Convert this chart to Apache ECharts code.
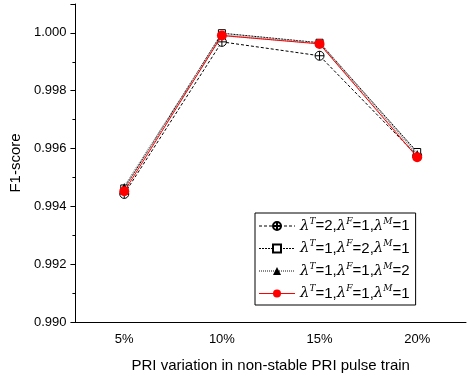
<!DOCTYPE html>
<html>
<head>
<meta charset="utf-8">
<script src="https://cdn.jsdelivr.net/npm/echarts@6/dist/echarts.min.js"></script>
<style>
  html, body { margin: 0; padding: 0; background: #fff; }
  #chart { width: 468px; height: 378px; }
</style>
</head>
<body>
<div id="chart"></div>
<script>
// PRI variation levels on the x axis
const categories = ['5%', '10%', '15%', '20%'];

// Weight settings (lambda^T, lambda^F, lambda^M) for each curve
const weightsA = [2, 1, 1];
const weightsB = [1, 2, 1];
const weightsC = [1, 1, 2];
const weightsD = [1, 1, 1];

// F1-score per PRI variation level
const f1A = [0.99443, 0.99969, 0.99921, 0.99575];
const f1B = [0.99462, 0.99999, 0.99966, 0.99588];
const f1C = [0.99467, 0.99992, 0.99965, 0.99581];
const f1D = [0.99452, 0.99991, 0.99962, 0.99570];

// Y axis ticks
const yMin = 0.990, yMax = 1.001, yStep = 0.002;

const names = [weightsA, weightsB, weightsC, weightsD].map(w => 'w' + w.join('_'));

function legendLabel(name) {
  const w = name.slice(1).split('_');
  return '{l|λ}{s|T}{t|=' + w[0] + ',}{l|λ}{s|F}{t|=' + w[1] + ',}{l|λ}{s|M}{t|=' + w[2] + '}';
}

const circlePlus = 'path://M0,-5A5,5,0,1,1,0,5A5,5,0,1,1,0,-5ZM-5,0L5,0M0,-5L0,5';
const font = '"Liberation Sans", Arial, sans-serif';

const chart = echarts.init(document.getElementById('chart'), null, { renderer: 'canvas' });
chart.setOption({
  animation: false,
  backgroundColor: '#fff',
  grid: { left: 73, right: 2, top: 4, bottom: 55, containLabel: false },
  xAxis: [{
    type: 'category',
    data: categories,
    boundaryGap: true,
    name: 'PRI variation in non-stable PRI pulse train',
    nameLocation: 'middle',
    nameGap: 36,
    nameTextStyle: { fontFamily: font, fontSize: 15, color: '#000' },
    axisLine: { lineStyle: { color: '#000', width: 1 } },
    axisTick: { alignWithLabel: true, length: 5, lineStyle: { color: '#000' } },
    axisLabel: { fontFamily: font, fontSize: 13, color: '#000', margin: 11 },
    splitLine: { show: false }
  }, {
    type: 'category',
    data: categories,
    position: 'bottom',
    boundaryGap: true,
    axisLine: { show: false },
    axisTick: { length: 3, interval: 0, lineStyle: { color: '#000' } },
    axisLabel: { show: false },
    splitLine: { show: false }
  }],
  yAxis: {
    type: 'value',
    min: yMin,
    max: yMax,
    interval: yStep,
    name: 'F1-score',
    nameLocation: 'middle',
    nameGap: 44,
    nameTextStyle: { fontFamily: font, fontSize: 15, color: '#000' },
    axisLine: { show: true, lineStyle: { color: '#000', width: 1 } },
    axisTick: { show: true, length: 5, lineStyle: { color: '#000' } },
    minorTick: { show: true, splitNumber: 2, length: 3, lineStyle: { color: '#000' } },
    axisLabel: {
      fontFamily: font, fontSize: 13, color: '#000', margin: 9,
      showMaxLabel: false,
      formatter: v => (v > 1.0005 ? '' : v.toFixed(3))
    },
    splitLine: { show: false }
  },
  legend: {
    orient: 'vertical',
    left: 255,
    top: 213,
    width: 166,
    padding: [4, 6, 4, 3],
    itemGap: 6,
    itemWidth: 36,
    itemHeight: 10,
    borderColor: '#000',
    borderWidth: 1,
    borderRadius: 0,
    backgroundColor: '#fff',
    lineStyle: { width: 'inherit' },
    data: names,
    formatter: legendLabel,
    textStyle: {
      fontFamily: font, fontSize: 15, color: '#000', lineHeight: 14,
      rich: {
        l: { fontFamily: '"DejaVu Serif", serif', fontStyle: 'italic', fontSize: 15, color: '#000' },
        s: { fontFamily: '"DejaVu Serif", serif', fontStyle: 'italic', fontSize: 9, color: '#000', padding: [0, 0, 9, 0] },
        t: { fontFamily: font, fontSize: 15, color: '#000' }
      }
    }
  },
  series: [{
    name: names[0],
    type: 'line',
    data: f1A,
    symbol: circlePlus,
    symbolSize: 9,
    itemStyle: { color: '#fff', borderColor: '#000', borderWidth: 1 },
    lineStyle: { color: '#000', width: 1, type: [3, 2] },
    z: 2
  }, {
    name: names[1],
    type: 'line',
    data: f1B,
    symbol: 'rect',
    symbolSize: 7,
    itemStyle: { color: '#fff', borderColor: '#000', borderWidth: 1 },
    lineStyle: { color: '#000', width: 1, type: [2, 1] },
    z: 3
  }, {
    name: names[2],
    type: 'line',
    data: f1C,
    symbol: 'triangle',
    symbolSize: 8,
    itemStyle: { color: '#000', borderColor: '#000', borderWidth: 0 },
    lineStyle: { color: '#888', width: 2, type: [1, 1] },
    z: 4
  }, {
    name: names[3],
    type: 'line',
    data: f1D,
    symbol: 'circle',
    symbolSize: 10,
    itemStyle: { color: '#ff0000', borderColor: '#ff0000', borderWidth: 0 },
    lineStyle: { color: '#ff0000', width: 1 },
    z: 5
  }]
});
</script>
</body>
</html>
